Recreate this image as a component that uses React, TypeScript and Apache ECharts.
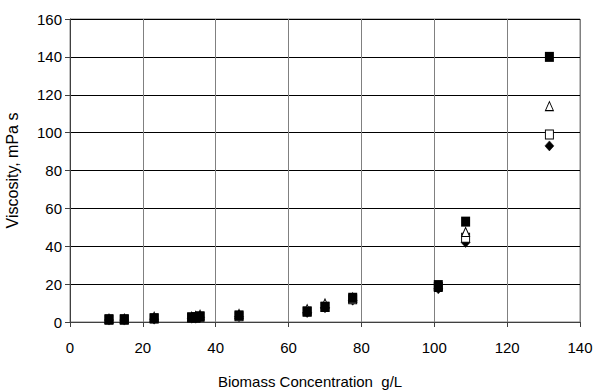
import React, { useEffect, useRef } from "react";
import * as echarts from "echarts";

const biomass = [10.7, 14.9, 23.1, 33.4, 34.5, 35.7, 46.4, 65.1, 70, 77.6, 101.1, 108.6, 131.6];
const filledSquare = [1.5, 1.5, 2, 2.5, 2.5, 3, 3.5, 5.5, 8, 12.8, 19.5, 53, 140];
const openTriangle = [1.8, 1.8, 2.8, 2.8, 3.2, 3.8, 4.2, 6.8, 9.8, 13, 19, 47.5, 114];
const openSquare = [1.2, 1.2, 1.8, 2.2, 2.3, 2.8, 3, 5.5, 8, 12, 18.5, 44.5, 99];
const filledDiamond = [1, 1, 1.5, 2, 2, 2.5, 2.8, 5, 7.5, 11.5, 17.5, 42, 93];

const xTitle = "Biomass Concentration  g/L";
const yTitle = "Viscosity, mPa s";

const pairs = (ys: number[]) => biomass.map((x, i) => [x, ys[i]]);

export default function App() {
  const ref = useRef<HTMLDivElement>(null);
  useEffect(() => {
    const chart = echarts.init(ref.current!, null, { renderer: "svg" });
    const font = "Liberation Sans, Arial, sans-serif";
    chart.setOption({
      animation: false,
      backgroundColor: "#ffffff",
      grid: {
        left: 70,
        right: 15,
        top: 19,
        bottom: 70,
        show: true,
        borderColor: "#808080",
        borderWidth: 1,
        containLabel: false,
        outerBoundsMode: "none",
      },
      xAxis: {
        type: "value",
        min: 0,
        max: 140,
        interval: 20,
        name: xTitle,
        nameLocation: "middle",
        nameGap: 52,
        nameTextStyle: { fontFamily: font, fontSize: 15, color: "#000", padding: [0, 30, 0, 0] },
        axisLine: { show: true, lineStyle: { color: "#404040" } },
        axisTick: { show: true, length: 5, lineStyle: { color: "#404040" } },
        axisLabel: { fontFamily: font, fontSize: 15, color: "#000", margin: 18 },
        splitLine: { show: true, lineStyle: { color: "#808080", width: 1 } },
      },
      yAxis: {
        type: "value",
        min: 0,
        max: 160,
        interval: 20,
        name: yTitle,
        nameLocation: "middle",
        nameGap: 50,
        nameTextStyle: { fontFamily: font, fontSize: 16, color: "#000" },
        axisLine: { show: true, lineStyle: { color: "#404040" } },
        axisTick: { show: true, length: 5, lineStyle: { color: "#404040" } },
        axisLabel: { fontFamily: font, fontSize: 15, color: "#000", margin: 8 },
        splitLine: { show: true, lineStyle: { color: "#000000", width: 1 } },
      },
      series: [
        {
          type: "scatter",
          data: pairs(filledDiamond),
          symbol: "diamond",
          symbolSize: [9, 10],
          itemStyle: { color: "#000", borderColor: "#000", borderWidth: 0.5, opacity: 1 },
          z: 2,
        },
        {
          type: "scatter",
          data: pairs(openSquare),
          symbol: "rect",
          symbolSize: [8, 9],
          itemStyle: { color: "#fff", borderColor: "#000", borderWidth: 1, opacity: 1 },
          z: 3,
        },
        {
          type: "scatter",
          data: pairs(openTriangle),
          symbol: "triangle",
          symbolSize: [8, 9],
          itemStyle: { color: "#fff", borderColor: "#000", borderWidth: 1, opacity: 1 },
          z: 4,
        },
        {
          type: "scatter",
          data: pairs(filledSquare),
          symbol: "rect",
          symbolSize: [9, 10],
          itemStyle: { color: "#000", opacity: 1 },
          z: 5,
        },
      ],
    });
    return () => chart.dispose();
  }, []);
  return <div ref={ref} style={{ width: 595, height: 392, position: "absolute", left: 0, top: 0 }} />;
}
